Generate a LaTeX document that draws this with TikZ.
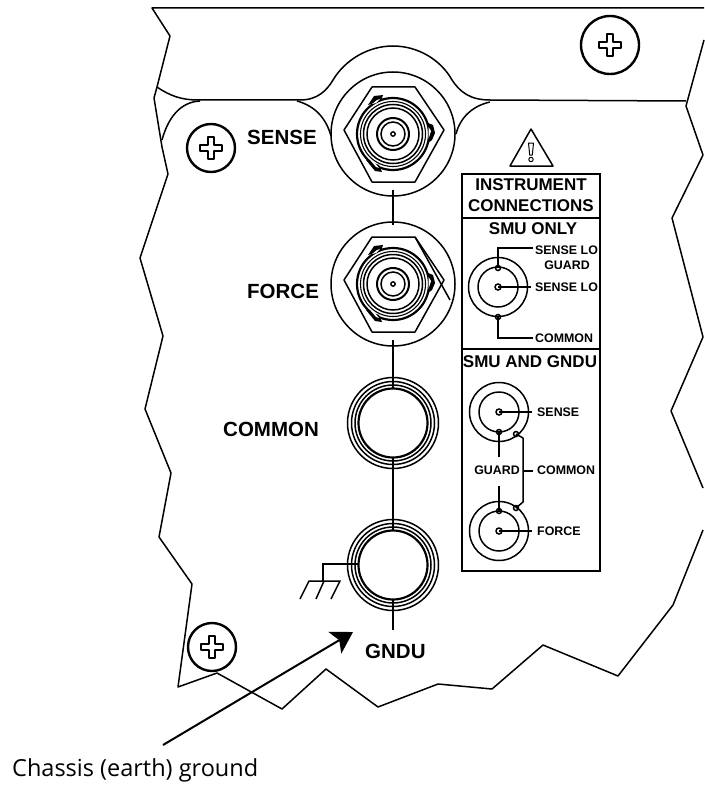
\documentclass[tikz,border=0pt]{standalone}
\usepackage{fontspec}
\setmainfont{Liberation Sans}
\newfontfamily\notefont{Open Sans}
\usepackage{tikz}
\usetikzlibrary{arrows.meta, positioning, calc}

\tikzset{
	edge/.style={line width=1.5pt, line join=round},
	ring/.style={line width=1.5pt},
	thin ring/.style={line width=1.1pt},
	bold label/.style={font=\bfseries\fontsize{20.5}{20.5}\selectfont, inner sep=0pt},
	panel head/.style={font=\bfseries\fontsize{17}{17}\selectfont, inner sep=0pt},
	pin label/.style={font=\bfseries\fontsize{12.4}{12.4}\selectfont, inner sep=0pt, anchor=west},
}

\begin{document}
\begin{tikzpicture}[x=1pt,y=-1pt]
		\useasboundingbox (0,0) rectangle (704,789);
		
		% Torn outline of the panel
		\draw[edge] (704,8) -- (152,8) -- (170,36) -- (157,87) -- (154,98) -- (162,147) -- (168,174) -- (140,258) -- (163,336) -- (145,409) -- (171,473) -- (159,537) -- (192,584) -- (178,687) -- (217,673) -- (282,709) -- (326,669) -- (378,707) -- (438,684) -- (492,689) -- (543,645) -- (618,676) -- (673,605) -- (703,530);
		\draw[edge] (704,40) -- (686,106) -- (703,155) -- (672,218) -- (703,337) -- (671,411) -- (703,488);
		
		% Plate edges
		\draw[edge] (157,87) .. controls (170,96) and (182,100) .. (198,100) -- (300,100) .. controls (318,100) and (327,90) .. (333,80) .. controls (345,60) and (368,46) .. (393,46) .. controls (418,46) and (441,60) .. (452,80) .. controls (460,92) and (470,100) .. (490,100) -- (686,101);
		\draw[edge] (162,140) .. controls (168,118) and (180,102) .. (200,101);
		\draw[edge] (297,101) .. controls (315,106) and (326,118) .. (331,136);
		\draw[edge] (490,102) .. controls (472,106) and (460,118) .. (456,134);
		
		% Screws
		\foreach \sx/\sy/\sr in {610/45/29, 211/148/24, 212/647/24}{
			\draw[line width=2.4pt] (\sx,\sy) circle (\sr);
			\draw[line width=1.3pt, line join=round, shift={(\sx,\sy)}] (-3,-11) -- (3,-11) -- (3,-3) -- (11,-3) -- (11,3) -- (3,3) -- (3,11) -- (-3,11) -- (-3,3) -- (-11,3) -- (-11,-3) -- (-3,-3) -- cycle;
		}
		
		% Threaded connectors
		\foreach \cy in {134,284}{
			\begin{scope}[shift={(393,\cy)}]
				\draw[ring] (0,0) circle (62);
				\draw[ring, line join=round] (-21,-47) -- (22,-47) -- (51,-4) -- (22,48) -- (-21,48) -- (-49,-4) -- cycle;
				\fill[white] (0,0) circle (38);
				\draw[line width=2.2pt] (0,0) circle (36);
				\draw[thin ring] (0,0) circle (32.5);
				\draw[ring] (0,0) circle (29.5);
				\draw[ring] (0,0) circle (26);
				\draw[line width=2pt] (0,0) circle (16);
				\draw[ring] (0,0) circle (12);
				\draw[line width=1.4pt] (0,0) circle (2.2);
				% Lugs
				\fill (-25,-29) -- (-19,-38) -- (-10,-39) -- (-12,-33) -- cycle;
				\fill (-27,26) -- (-18,37) -- (-11,38) -- (-14,31) -- cycle;
				\fill (35,-11) -- (40,-9) -- (42,-1) -- (39,6) -- (35,9) -- cycle;
				\fill[white] (-21,-30) -- (-16,-34) -- (-13,-35) -- (-17,-31) -- cycle;
				\fill[white] (-22,27) -- (-17,33) -- (-14,34) -- (-18,29) -- cycle;
				\fill[white] (35.5,-7) -- (38,-3) -- (35.5,5) -- cycle;
			\end{scope}
		}
		\draw[ring] (415,237) -- (450,300);
		
		% Plain rings
		\foreach \cy in {423,565}{
			\draw[ring] (393,\cy) circle (45.5);
			\draw[ring] (393,\cy) circle (41.5);
			\draw[ring] (393,\cy) circle (38);
			\draw[line width=2.2pt] (393,\cy) circle (34.5);
		}
		
		% Link between the connectors
		\draw[ring] (393,190) -- (393,225);
		\draw[ring] (393,340) -- (393,388);
		\draw[ring] (393,458) -- (393,530);
		\draw[ring] (393,600) -- (393,630);
		
		% Ground symbol
		\draw[ring] (358,564) -- (323,564) -- (323,581);
		\draw[ring] (300,599) -- (309,581) -- (340,581) -- (331,599);
		\draw[ring] (324,581) -- (316,599);
		
		% Front panel labels
		\node[bold label, anchor=west] (senselabel) at (247,137) {SENSE};
		\node[bold label, anchor=west] (forcelabel) at (247,291) {FORCE};
		\node[bold label, anchor=west] (commonlabel) at (223,429) {COMMON};
		\node[bold label, anchor=west] (gndulabel) at (365,651) {GNDU};
		
		% Warning triangle
		\draw[ring, line join=round] (531,129) -- (553,166) -- (510,166) -- cycle;
		\draw[line width=1pt, line join=round] (528.5,143) -- (533.5,143) -- (532.3,155) -- (529.7,155) -- cycle;
		\draw[line width=1pt] (531,159.5) circle (2.2);
		
		% Instrument connections box
		\draw[line width=1.6pt] (462,174) rectangle (600,571);
		\draw[line width=1.6pt] (462,218) -- (600,218);
		\draw[line width=1.6pt] (462,349) -- (600,349);
		\node[panel head] (instrument) at (531,185) {INSTRUMENT};
		\node[panel head] (connections) at (531,206) {CONNECTIONS};
		\node[panel head] (smuonly) at (533,229) {SMU ONLY};
		\node[panel head] (smugndu) at (530,362) {SMU AND GNDU};
		
		% Connector sketches in the box
		\foreach \bx/\by in {498/287, 499/412, 499/531}{
			\draw[ring] (\bx,\by) circle (29.5);
			\draw[ring] (\bx,\by) circle (20);
			\draw[ring] (\bx,\by) circle (3);
			\draw[ring] (\bx,\by) -- +(33,0);
		}
		\foreach \dx/\dy in {498/268, 498/317, 499/432, 516/434, 499/511, 516/508}{
			\draw[ring] (\dx,\dy) circle (2.5);
		}
		
		% SMU only wiring
		\draw[ring] (498,268) -- (498,248) -- (533,248);
		\draw[ring] (498,317) -- (498,338) -- (533,338);
		\node[pin label] (senselo) at (535,250) {SENSE LO};
		\node[pin label, anchor=center] (guardtop) at (567,265) {GUARD};
		\node[pin label] (senselomid) at (535,287) {SENSE LO};
		\node[pin label] (commontop) at (535,338) {COMMON};
		
		% SMU and GNDU wiring
		\draw[ring] (499,432) -- (499,457);
		\draw[ring] (499,486) -- (499,511);
		\draw[ring, line join=round] (516,434) -- (523,438) -- (523,502) -- (516,508);
		\draw[ring] (523,471) -- (533,471);
		\node[pin label] (sensepin) at (537,412) {SENSE};
		\node[pin label, anchor=center] (guardpin) at (497,470) {GUARD};
		\node[pin label] (commonpin) at (537,470) {COMMON};
		\node[pin label] (forcepin) at (537,531) {FORCE};
		
		% Chassis ground callout
		\coordinate (notestart) at (163,745);
		\coordinate (notetip) at (353,632);
		\draw[line width=2pt, -{Stealth[length=21pt,width=25pt,inset=5pt]}] (notestart) -- (notetip);
		\node[anchor=west, inner sep=0pt, font=\notefont\fontsize{23.5}{23.5}\selectfont] (chassis) at (12,770) {Chassis (earth) ground};
		
	\end{tikzpicture}
\end{document}
